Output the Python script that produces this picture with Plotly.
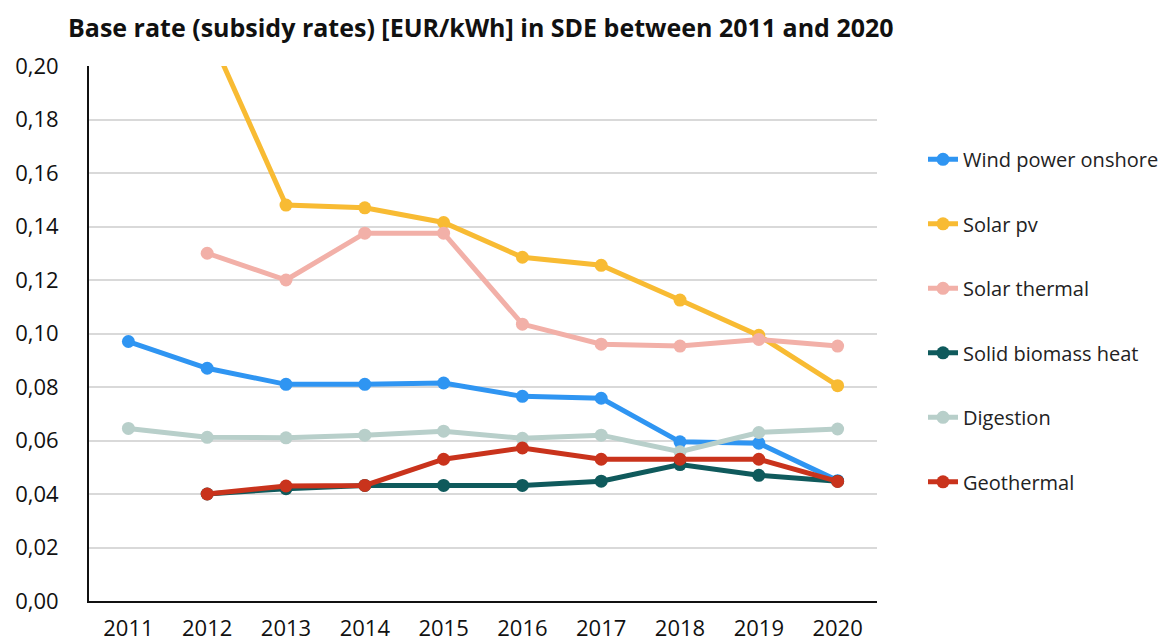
import plotly.graph_objects as go

years = [2011, 2012, 2013, 2014, 2015, 2016, 2017, 2018, 2019, 2020]

wind_onshore = [0.097, 0.087, 0.081, 0.081, 0.0815, 0.0765, 0.0758, 0.0595, 0.059, 0.045]
solar_pv = [None, 0.214, 0.148, 0.147, 0.1415, 0.1285, 0.1255, 0.1125, 0.0993, 0.0805]
solar_thermal = [None, 0.130, 0.120, 0.1375, 0.1375, 0.1035, 0.096, 0.0953, 0.0978, 0.0953]
solid_biomass = [None, 0.040, 0.042, 0.0432, 0.0432, 0.0432, 0.0448, 0.051, 0.047, 0.0448]
digestion = [0.0645, 0.0612, 0.061, 0.062, 0.0635, 0.0608, 0.062, 0.0558, 0.063, 0.0643]
geothermal = [None, 0.040, 0.043, 0.0432, 0.053, 0.0572, 0.053, 0.053, 0.053, 0.0447]

series = [
    ("Wind power onshore", wind_onshore, "#2f95f2"),
    ("Solar pv", solar_pv, "#f8bb33"),
    ("Solar thermal", solar_thermal, "#f2b0a8"),
    ("Solid biomass heat", solid_biomass, "#0f5a5c"),
    ("Digestion", digestion, "#b8cfca"),
    ("Geothermal", geothermal, "#c9331c"),
]

fig = go.Figure()
for i, (name, vals, color) in enumerate(series):
    fig.add_trace(
        go.Scatter(
            x=years,
            y=vals,
            name=name,
            mode="lines+markers",
            line={"color": color, "width": 5},
            marker={"color": color, "size": 13},
            legendgroup=f"g{i}",
        )
    )

# page body has an 8px margin, so figure coords are screen coords minus 8
fig.update_layout(
    width=1172,
    height=642,
    paper_bgcolor="white",
    plot_bgcolor="white",
    separators=", ",
    font={"family": "Open Sans, sans-serif", "color": "#222222"},
    title={
        "text": "<b>Base rate (subsidy rates) [EUR/kWh] in SDE between 2011 and 2020</b>",
        "xref": "container",
        "yref": "container",
        "x": 60 / 1172,
        "xanchor": "left",
        "y": 1 - 20 / 642,
        "yanchor": "middle",
        "font": {"size": 25, "color": "#111111"},
    },
    margin={"t": 58, "b": 49, "l": 81, "r": 303},
    showlegend=True,
    legend={
        "x": (915 - 81) / 788,
        "xanchor": "left",
        "y": 0.862,
        "yanchor": "top",
        "tracegroupgap": 35.5,
        "font": {"size": 20, "color": "#222222"},
        "bgcolor": "rgba(0,0,0,0)",
    },
    xaxis={
        "range": [2010.5, 2020.5],
        "tickmode": "array",
        "tickvals": years,
        "ticktext": [str(y) for y in years],
        "showgrid": False,
        "zeroline": False,
        "showline": True,
        "linecolor": "#111111",
        "linewidth": 2,
        "ticks": "",
        "automargin": False,
        "ticklabelstandoff": 7,
        "tickfont": {"size": 22, "color": "#111111"},
    },
    yaxis={
        "range": [0, 0.2],
        "dtick": 0.02,
        "tickformat": ".2f",
        "showgrid": True,
        "gridcolor": "#d9d9d9",
        "gridwidth": 1.5,
        "zeroline": False,
        "showline": True,
        "linecolor": "#111111",
        "linewidth": 2,
        "ticks": "",
        "automargin": False,
        "ticklabelstandoff": 24,
        "tickfont": {"size": 22, "color": "#111111"},
    },
)

fig.write_html("out.html")
